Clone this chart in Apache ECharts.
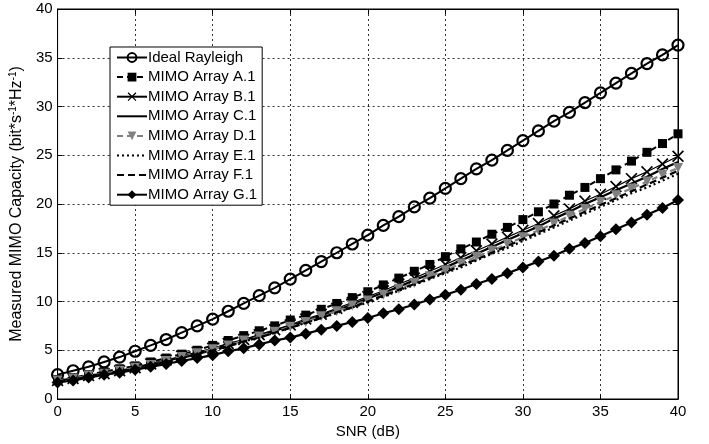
<!DOCTYPE html>
<html><head><meta charset="utf-8">
<script src="https://cdn.jsdelivr.net/npm/echarts@6/dist/echarts.min.js"></script>
<style>html,body{margin:0;padding:0;background:#fff}#c{width:709px;height:444px}</style>
</head><body><div id="c"></div>
<script>
const snr = Array.from({length: 41}, (_, i) => i);
const seriesNames = ['Ideal Rayleigh','MIMO Array A.1','MIMO Array B.1','MIMO Array C.1','MIMO Array D.1','MIMO Array E.1','MIMO Array F.1','MIMO Array G.1'];
const idealRayleigh = [2.5,2.9,3.3,3.8,4.3,4.9,5.5,6.1,6.8,7.5,8.2,9.0,9.8,10.6,11.4,12.3,13.2,14.1,15.0,15.9,16.8,17.8,18.7,19.7,20.6,21.6,22.6,23.6,24.5,25.5,26.5,27.5,28.5,29.4,30.4,31.4,32.4,33.4,34.4,35.3,36.3];
const arrayA1 = [2.0,2.2,2.5,2.8,3.1,3.4,3.8,4.2,4.6,5.0,5.5,6.0,6.5,7.0,7.5,8.1,8.6,9.2,9.8,10.4,11.0,11.7,12.4,13.1,13.8,14.6,15.4,16.1,16.9,17.6,18.4,19.2,20.0,20.9,21.7,22.6,23.5,24.4,25.3,26.2,27.2];
const arrayB1 = [1.9,2.1,2.4,2.6,2.9,3.2,3.6,4.0,4.4,4.8,5.2,5.7,6.1,6.6,7.1,7.6,8.2,8.7,9.3,9.9,10.5,11.1,11.8,12.4,13.1,13.8,14.5,15.2,15.9,16.6,17.3,18.0,18.8,19.5,20.3,21.0,21.8,22.6,23.3,24.1,24.9];
const arrayC1 = [1.9,2.1,2.4,2.6,2.9,3.2,3.6,3.9,4.3,4.7,5.1,5.6,6.0,6.5,7.0,7.5,8.0,8.6,9.1,9.7,10.3,10.9,11.5,12.2,12.8,13.5,14.2,14.9,15.6,16.3,17.0,17.7,18.5,19.2,20.0,20.7,21.4,22.1,22.8,23.6,24.3];
const arrayD1 = [1.9,2.1,2.4,2.6,2.9,3.2,3.5,3.9,4.3,4.7,5.1,5.5,6.0,6.4,6.9,7.4,7.9,8.5,9.0,9.6,10.1,10.7,11.3,11.9,12.6,13.2,13.9,14.6,15.2,15.9,16.6,17.3,18.0,18.8,19.5,20.2,20.9,21.6,22.3,23.0,23.7];
const arrayE1 = [1.8,2.0,2.3,2.5,2.8,3.1,3.5,3.8,4.2,4.6,5.0,5.4,5.9,6.3,6.8,7.3,7.8,8.3,8.8,9.4,9.9,10.5,11.1,11.7,12.3,12.9,13.5,14.2,14.9,15.5,16.2,16.9,17.6,18.3,19.0,19.7,20.4,21.1,21.7,22.4,23.1];
const arrayF1 = [1.8,2.0,2.3,2.5,2.8,3.1,3.5,3.8,4.2,4.6,5.0,5.4,5.9,6.3,6.8,7.3,7.8,8.3,8.9,9.4,10.0,10.6,11.2,11.8,12.4,13.0,13.7,14.3,15.0,15.7,16.4,17.1,17.8,18.5,19.2,19.9,20.6,21.3,22.0,22.7,23.4];
const arrayG1 = [1.7,1.9,2.2,2.5,2.7,3.0,3.3,3.6,3.9,4.2,4.5,4.9,5.2,5.6,6.0,6.3,6.7,7.1,7.5,7.9,8.3,8.8,9.2,9.7,10.2,10.7,11.2,11.8,12.3,12.9,13.5,14.1,14.7,15.4,16.0,16.7,17.4,18.1,18.9,19.6,20.4];
const xTicks = [0,5,10,15,20,25,30,35,40];
const yTicks = [0,5,10,15,20,25,30,35,40];

const pairs = arr => snr.map((x, i) => [x, arr[i]]);
const xSym = 'path://M0,1L1,0L5,4L9,0L10,1L6,5L10,9L9,10L5,6L1,10L0,9L4,5Z';
const FONT = '"Liberation Sans", Arial, sans-serif';

const styles = [
  {data: idealRayleigh, color:'#000', width:2, type:'solid', symbol:'circle', size:11, fill:'rgba(0,0,0,0)', bw:2.2},
  {data: arrayA1, color:'#000', width:2, type:[6,4], symbol:'rect', size:9, bw:0},
  {data: arrayB1, color:'#000', width:1.2, type:'solid', symbol:xSym, size:12, bw:0},
  {data: arrayC1, color:'#000', width:2.2, type:'solid', symbol:'none', size:0, bw:0},
  {data: arrayD1, color:'#808080', width:2.2, type:[6,4], symbol:'triangle', size:10, bw:0, rot:180},
  {data: arrayE1, color:'#000', width:2.2, type:[2,3], symbol:'none', size:0, bw:0},
  {data: arrayF1, color:'#000', width:2.2, type:[7,4], symbol:'none', size:0, bw:0},
  {data: arrayG1, color:'#000', width:2.2, type:'solid', symbol:'diamond', size:12, bw:0}
];

const series = styles.map((s, i) => ({
  name: seriesNames[i],
  type: 'line',
  data: pairs(s.data),
  symbol: s.symbol,
  symbolSize: s.size,
  symbolRotate: s.rot || 0,
  showAllSymbol: true,
  animation: false,
  xAxisIndex: 0, yAxisIndex: 0,
  lineStyle: {color: s.color, width: s.width, type: s.type},
  itemStyle: {color: s.fill || s.color, borderColor: s.color, borderWidth: s.bw},
  z: 2 + i
}));

const legendData = seriesNames.map((n, i) => styles[i].symbol === 'none'
  ? {name: n, itemStyle: {opacity: 0}}
  : {name: n});

const axisCommon = {
  type: 'value', min: 0, max: 40, interval: 5,
  axisLine: {show: true, onZero: false, lineStyle: {color: '#000', width: 1}},
  axisTick: {show: true, inside: true, length: 5, lineStyle: {color: '#000'}}
};

const chart = echarts.init(document.getElementById('c'), null, {renderer: 'canvas'});
chart.setOption({
  backgroundColor: '#fff',
  animation: false,
  grid: {left: 57, right: 31, top: 9, bottom: 41, show: true, borderColor: '#000', borderWidth: 1, backgroundColor: '#fff'},
  legend: {
    orient: 'vertical', left: 110, top: 47,
    data: legendData,
    itemWidth: 30, itemHeight: 11, itemGap: 2.6,
    padding: [2, 5, 2, 6],
    backgroundColor: '#fff', borderColor: '#000', borderWidth: 1,
    textStyle: {fontFamily: FONT, fontSize: 15, lineHeight: 17, color: '#000', padding: [0, 0, 0, -4]}
  },
  xAxis: [Object.assign({}, axisCommon, {
    position: 'bottom',
    name: 'SNR (dB)', nameLocation: 'middle', nameGap: 25,
    nameTextStyle: {fontFamily: FONT, fontSize: 15, color: '#000'},
    axisLabel: {fontFamily: FONT, fontSize: 15, color: '#000', margin: 5, formatter: v => xTicks.includes(v) ? String(v) : ''},
    splitLine: {show: true, lineStyle: {color: '#333', width: 1, type: [2, 3]}}
  }), Object.assign({}, axisCommon, {
    position: 'top', axisLabel: {show: false}, splitLine: {show: false}
  })],
  yAxis: [Object.assign({}, axisCommon, {
    position: 'left',
    name: 'Measured MIMO Capacity (bit*s{sup|-1}*Hz{sup|-1})', nameLocation: 'middle', nameGap: 29, nameRotate: 90,
    nameTextStyle: {fontFamily: FONT, fontSize: 16, color: '#000', rich: {sup: {fontFamily: FONT, fontSize: 10, color: '#000', verticalAlign: 'top', padding: [0, 0, 8, 0]}}},
    axisLabel: {fontFamily: FONT, fontSize: 15, color: '#000', margin: 5, formatter: v => yTicks.includes(v) ? String(v) : ''},
    splitLine: {show: true, lineStyle: {color: '#333', width: 1, type: [2, 3]}}
  }), Object.assign({}, axisCommon, {
    position: 'right', axisLabel: {show: false}, splitLine: {show: false}
  })],
  series: series
});
</script>
</body></html>
